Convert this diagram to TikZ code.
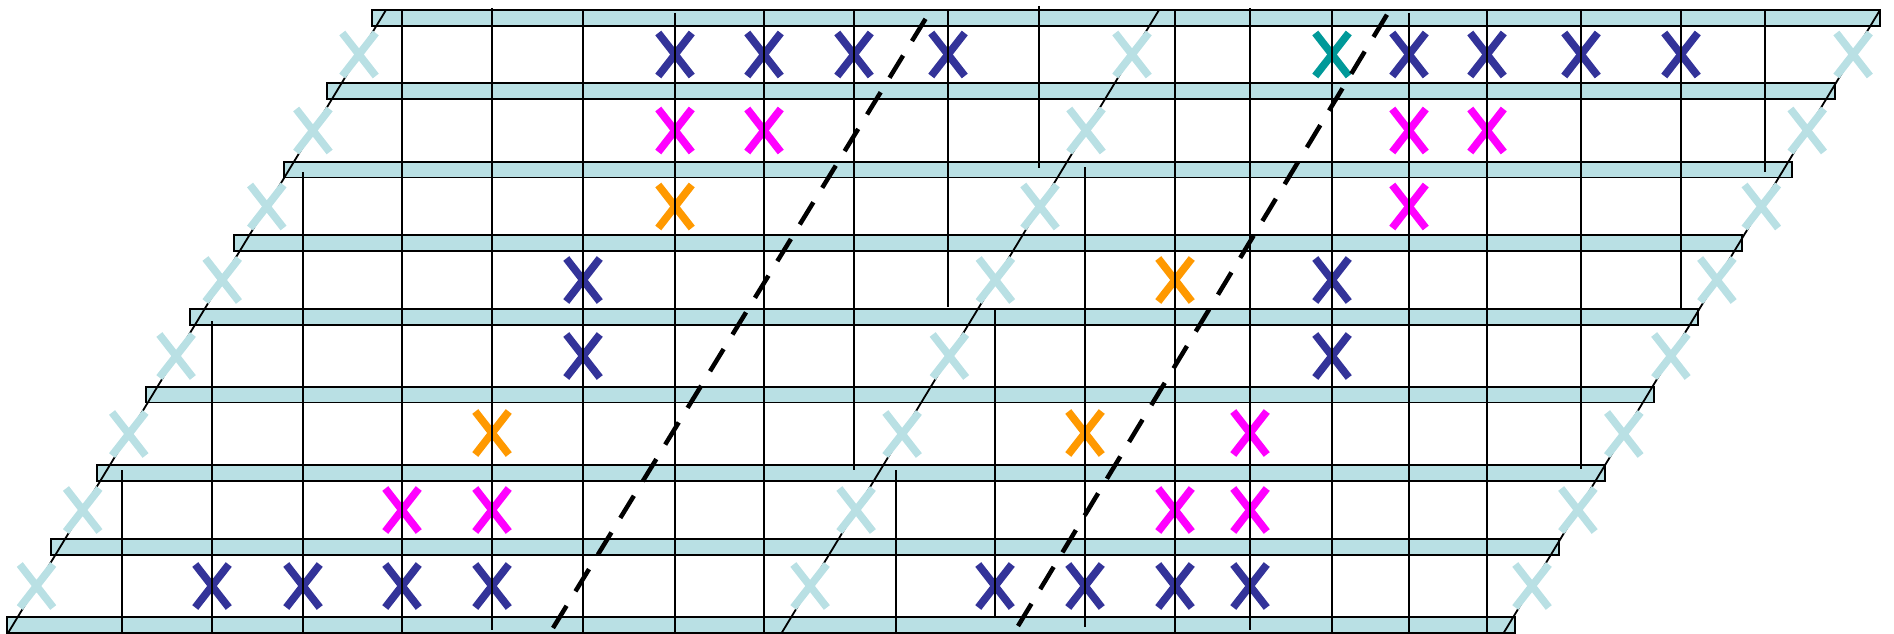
\documentclass[tikz,border=0pt]{standalone}
\usetikzlibrary{shapes.misc}
\definecolor{barc}{RGB}{185,224,228}
\definecolor{xblue}{RGB}{51,51,153}
\definecolor{xmag}{RGB}{255,0,255}
\definecolor{xorange}{RGB}{255,153,0}
\definecolor{xteal}{RGB}{0,153,153}
\begin{document}
\begin{tikzpicture}[x=1pt,y=-1pt,
  bar/.style={draw=black, fill=barc, line width=1.9pt, minimum width=1508pt, minimum height=15.8pt, inner sep=0pt, outer sep=0pt, anchor=north west},
  xm/.style={cross out, draw=#1, line width=7.6pt, minimum width=33.5pt, minimum height=43pt, inner sep=0pt, outer sep=0pt},
  vline/.style={draw=black, line width=2.5pt},
  sline/.style={draw=black, line width=1.8pt},
  dline/.style={draw=black, line width=4.5pt, dash pattern=on 26pt off 17pt}]
\useasboundingbox (0,0) rectangle (1894,634);
% bars
\foreach \i/\xl/\yt in {1/372/10, 2/327/83.3, 3/284/161.7, 4/234/235.3, 5/190/309.3, 6/146/386.7, 7/97/465, 8/51/539, 9/7/617}
  \node[bar] (bar\i) at (\xl,\yt) {};
% coloured crosses
\foreach \c/\x/\y/\n in {
  xblue/675/54.5/a1, xblue/764/54.5/a2, xblue/854/54.5/a3, xblue/948/54.5/a4,
  xteal/1332/54.5/a5, xblue/1409/54.5/a6, xblue/1487/54.5/a7, xblue/1581/54.5/a8, xblue/1681/54.5/a9,
  xmag/675/130.5/b1, xmag/764/130.5/b2, xmag/1409/130.5/b3, xmag/1487/130.5/b4,
  xorange/675/206.5/c1, xmag/1409/206.5/c2,
  xblue/583/280/d1, xorange/1175/280/d2, xblue/1332/280/d3,
  xblue/583/356/e1, xblue/1332/356/e2,
  xorange/492/433/f1, xorange/1085/433/f2, xmag/1250/433/f3,
  xmag/402/510/g1, xmag/492/510/g2, xmag/1175/510/g3, xmag/1250/510/g4,
  xblue/212/586/h1, xblue/303/586/h2, xblue/402/586/h3, xblue/492/586/h4,
  xblue/995/586/h5, xblue/1085/586/h6, xblue/1175/586/h7, xblue/1250/586/h8}
  \node[xm=\c] (x\n) at (\x,\y) {};
% vertical lines
\foreach \x/\ya/\yb in {122/470/633, 212/321/633, 303/172/633, 402/10/633, 492/8/630, 583/10/633,
  675/13/633, 764/10/633, 854/10/470, 896/470/633, 948/10/307, 995/308/618, 1039/6/168,
  1085/167/627, 1175/10/633, 1250/8/630, 1332/10/633, 1409/13/633, 1487/10/633,
  1581/10/469, 1681/10/308, 1765/10/172}
  \draw[vline] (\x,\ya) -- (\x,\yb);
% slanted solid lines
\coordinate (L1t) at (386,10);   \coordinate (L1b) at (8,633);
\coordinate (L2t) at (1159,10);  \coordinate (L2b) at (781,634);
\coordinate (L3t) at (1880,10);  \coordinate (L3b) at (1503,634);
\draw[sline] (L1t) -- (L1b);
\draw[sline] (L2t) -- (L2b);
\draw[sline] (L3t) -- (L3b);
% light crosses on the slanted lines
\foreach \y/\xa/\xb/\xc [count=\k] in {54.5/359.0/1132.0/1853.1, 130.5/312.9/1086.0/1807.2,
  206.5/266.8/1040.0/1761.3, 280/222.2/995.4/1716.9, 356/176.1/949.4/1670.9,
  434/128.8/902.1/1623.8, 510/82.7/856.1/1577.9, 586/36.5/810.1/1532.0} {
  \node[xm=barc] (la\k) at (\xa,\y) {};
  \node[xm=barc] (lb\k) at (\xb,\y) {};
  \node[xm=barc] (lc\k) at (\xc,\y) {};
}
% dashed lines
\coordinate (D1b) at (553,628); \coordinate (D1t) at (934,5);
\coordinate (D2b) at (1018,626); \coordinate (D2t) at (1394,3);
\draw[dline] (D1b) -- (D1t);
\draw[dline] (D2b) -- (D2t);
\end{tikzpicture}
\end{document}
